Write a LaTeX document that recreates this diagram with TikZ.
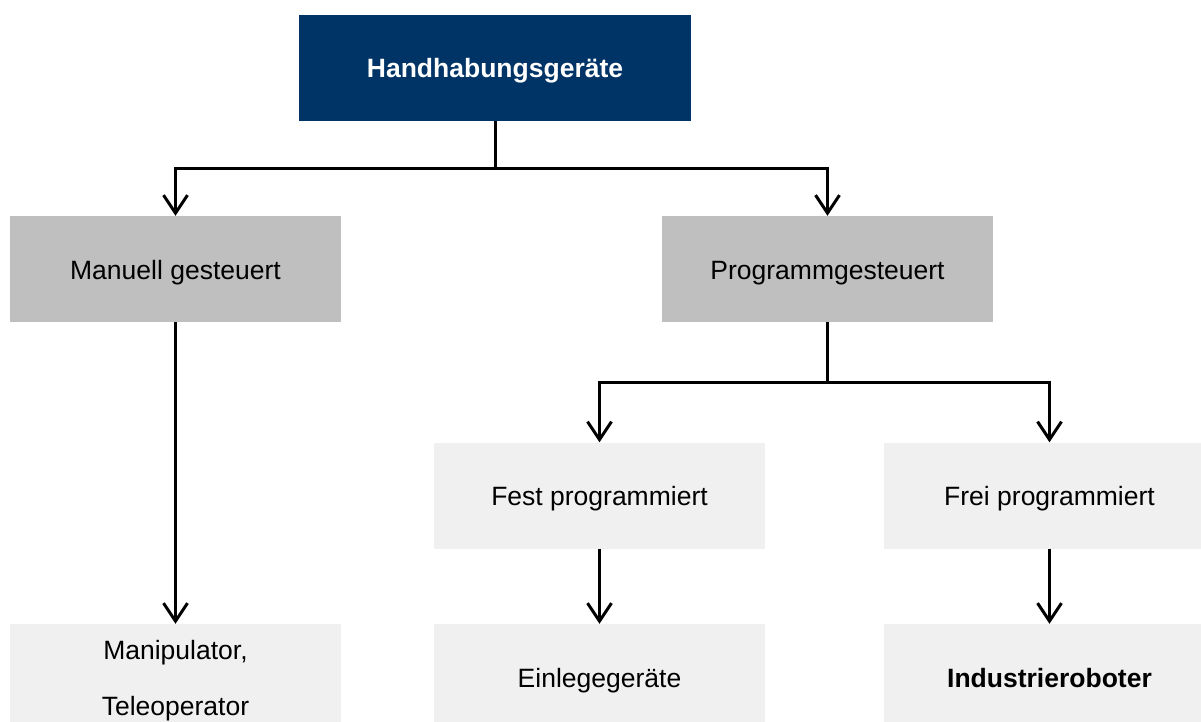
\documentclass[tikz,border=0pt]{standalone}
\usepackage{fontspec}
\setmainfont{Liberation Sans}
\usetikzlibrary{arrows.meta}
\definecolor{navy}{RGB}{0,51,102}
\definecolor{midgray}{RGB}{191,191,191}
\definecolor{lightgray}{RGB}{240,240,240}
\begin{document}
\begin{tikzpicture}[x=1pt,y=-1pt,
  box/.style={minimum width=331pt,minimum height=106pt,inner sep=0pt,align=center,
    text height=20pt,text depth=0pt,
    font=\fontsize{26.5}{56}\selectfont},
  headbox/.style={box,fill=navy,text=white,minimum width=392pt,font=\fontsize{26.5}{56}\selectfont\bfseries},
  groupbox/.style={box,fill=midgray},
  leafbox/.style={box,fill=lightgray},
  link/.style={line width=3pt,-{Straight Barb[length=18pt,width=24pt,line width=3pt]}}]
\useasboundingbox (0,0) rectangle (1201,722);
\clip (0,0) rectangle (1201,722);
\fill[white] (0,0) rectangle (1201,722);

% boxes
\node[headbox]  (root) at (495,68)    {Handhabungsgeräte};
\node[groupbox] (man)  at (175.5,269) {Manuell gesteuert};
\node[groupbox] (prog) at (827.5,269) {Programmgesteuert};
\node[leafbox]  (fest) at (599.5,495.5) {Fest programmiert};
\node[leafbox]  (frei) at (1049.5,495.5) {Frei programmiert};
\node[leafbox,text height=76pt] (mani) at (175.5,677) {Manipulator,\\Teleoperator};
\node[leafbox]  (einl) at (599.5,677) {Einlegegeräte};
\node[leafbox]  (indu) at (1049.5,677) {\bfseries Industrieroboter};

% connectors
\draw[link] (root.south) -- ++(0,47) -| (man.north);
\draw[link] (root.south) -- ++(0,47) -| (prog.north);
\draw[link] (prog.south) -- ++(0,60) -| (fest.north);
\draw[link] (prog.south) -- ++(0,60) -| (frei.north);
\draw[link] (man.south)  -- (mani.north);
\draw[link] (fest.south) -- (einl.north);
\draw[link] (frei.south) -- (indu.north);
\end{tikzpicture}
\end{document}
